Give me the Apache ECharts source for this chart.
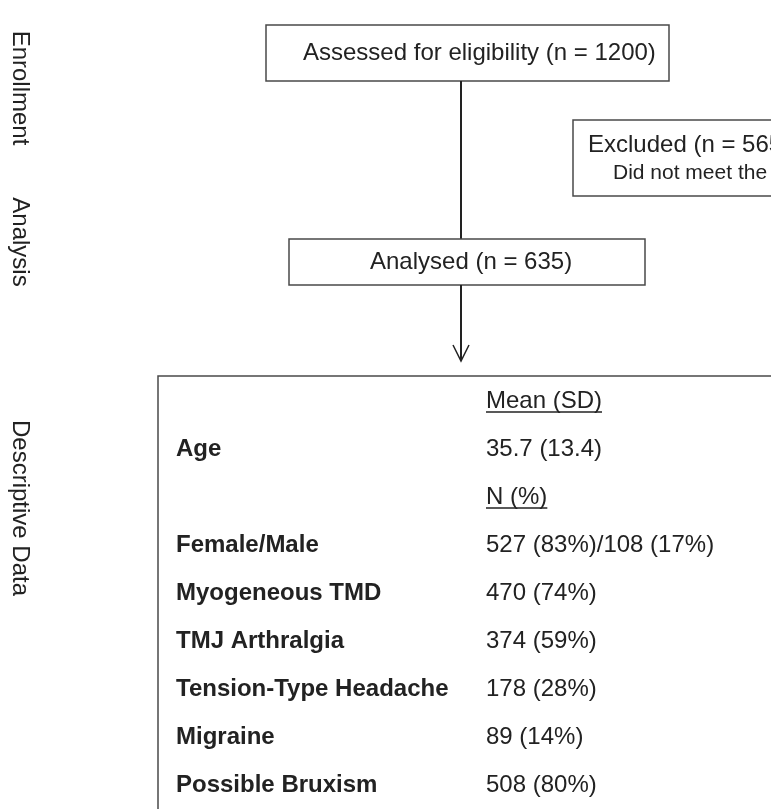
<!DOCTYPE html>
<html>
<head>
<meta charset="utf-8">
<title>Flow of participants</title>
<script src="https://cdn.jsdelivr.net/npm/echarts@6.0.0/dist/echarts.min.js"></script>
<style>
  html, body { margin: 0; padding: 0; background: #fff; }
  #chart { width: 771px; height: 809px; }
</style>
</head>
<body>
<div id="chart"></div>
<script>
// stage captions on the left
const stages = ['Enrollment', 'Analysis', 'Descriptive Data']
// flow boxes
const assessedText = 'Assessed for eligibility (n = 1200)'
const excludedText = ['Excluded (n = 565)', 'Did not meet the']
const analysedText = 'Analysed (n = 635)'
// table rows
const rowLabels = ['', 'Age', '', 'Female/Male', 'Myogeneous TMD', 'TMJ Arthralgia',
  'Tension-Type Headache', 'Migraine', 'Possible Bruxism']
const rowValues = ['Mean (SD)', '35.7 (13.4)', 'N (%)', '527 (83%)/108 (17%)', '470 (74%)',
  '374 (59%)', '178 (28%)', '89 (14%)', '508 (80%)']
const headerRows = [0, 2]

const FONT = '"Liberation Sans", Arial, Helvetica, sans-serif'
const INK = '#222'
const LINE = '#4a4a4a'

const measure = document.createElement('canvas').getContext('2d')
function textWidth(text, size, weight) {
  measure.font = (weight || 'normal') + ' ' + size + 'px ' + FONT
  return measure.measureText(text).width
}

const chart = echarts.init(document.getElementById('chart'), null, { renderer: 'canvas' })

function cellRenderer(col) {
  return function (params, api) {
    const pt = api.coord([api.value(0), api.value(1)])
    const i = params.dataIndex
    const text = col === 0 ? rowLabels[i] : rowValues[i]
    const bold = col === 0
    const children = [{
      type: 'text',
      x: pt[0],
      y: pt[1],
      style: {
        text: text,
        fill: INK,
        fontFamily: FONT,
        fontSize: 24,
        fontWeight: bold ? 'bold' : 'normal',
        align: 'left',
        verticalAlign: 'middle'
      }
    }]
    if (col === 1 && headerRows.indexOf(i) >= 0) {
      const w = textWidth(text, 24)
      children.push({
        type: 'line',
        shape: { x1: pt[0], y1: pt[1] + 11, x2: pt[0] + w, y2: pt[1] + 11 },
        style: { stroke: INK, lineWidth: 1.5 }
      })
    }
    return { type: 'group', children: children }
  }
}

const stageY = [88, 242, 508]

chart.setOption({
  animation: false,
  backgroundColor: '#fff',
  grid: { left: 176, width: 310, top: 377, height: 440 },
  xAxis: { type: 'value', min: 0, max: 1, show: false },
  yAxis: { type: 'category', inverse: true, show: false, data: rowValues },
  graphic: [
    // stage captions
    ...stages.map((s, i) => ({
      type: 'text',
      x: 20,
      y: stageY[i],
      rotation: -Math.PI / 2,
      style: {
        text: s, fill: INK, font: '24px ' + FONT,
        textAlign: 'center', textVerticalAlign: 'middle'
      }
    })),
    // assessed box
    {
      type: 'rect',
      shape: { x: 266, y: 25, width: 403, height: 56 },
      style: { fill: '#fff', stroke: LINE, lineWidth: 1.5 }
    },
    {
      type: 'text', x: 303, y: 53,
      style: { text: assessedText, fill: INK, font: '24px ' + FONT, textAlign: 'left', textVerticalAlign: 'middle' }
    },
    // excluded box
    {
      type: 'rect',
      shape: { x: 573, y: 120, width: 260, height: 76 },
      style: { fill: '#fff', stroke: LINE, lineWidth: 1.5 }
    },
    {
      type: 'text', x: 588, y: 145,
      style: { text: excludedText[0], fill: INK, font: '24px ' + FONT, textAlign: 'left', textVerticalAlign: 'middle' }
    },
    {
      type: 'text', x: 613, y: 173,
      style: { text: excludedText[1], fill: INK, font: '21px ' + FONT, textAlign: 'left', textVerticalAlign: 'middle' }
    },
    // connector to analysed box
    {
      type: 'line',
      shape: { x1: 461, y1: 81, x2: 461, y2: 239 },
      style: { stroke: '#222', lineWidth: 2 }
    },
    // analysed box
    {
      type: 'rect',
      shape: { x: 289, y: 239, width: 356, height: 46 },
      style: { fill: '#fff', stroke: LINE, lineWidth: 1.5 }
    },
    {
      type: 'text', x: 370, y: 262,
      style: { text: analysedText, fill: INK, font: '24px ' + FONT, textAlign: 'left', textVerticalAlign: 'middle' }
    },
    // arrow down to table
    {
      type: 'line',
      shape: { x1: 461, y1: 285, x2: 461, y2: 360 },
      style: { stroke: '#222', lineWidth: 2 }
    },
    {
      type: 'polyline',
      shape: { points: [[453, 345], [461, 361], [469, 345]] },
      style: { stroke: '#222', lineWidth: 1.5, fill: null }
    },
    // table frame
    {
      type: 'rect',
      shape: { x: 158, y: 376, width: 700, height: 500 },
      style: { fill: null, stroke: LINE, lineWidth: 1.5 }
    }
  ],
  series: [
    {
      type: 'custom',
      renderItem: cellRenderer(0),
      data: rowLabels.map((_, i) => [0, i]),
      silent: true,
      z: 10
    },
    {
      type: 'custom',
      renderItem: cellRenderer(1),
      data: rowValues.map((_, i) => [1, i]),
      silent: true,
      z: 10
    }
  ]
})
</script>
</body>
</html>
